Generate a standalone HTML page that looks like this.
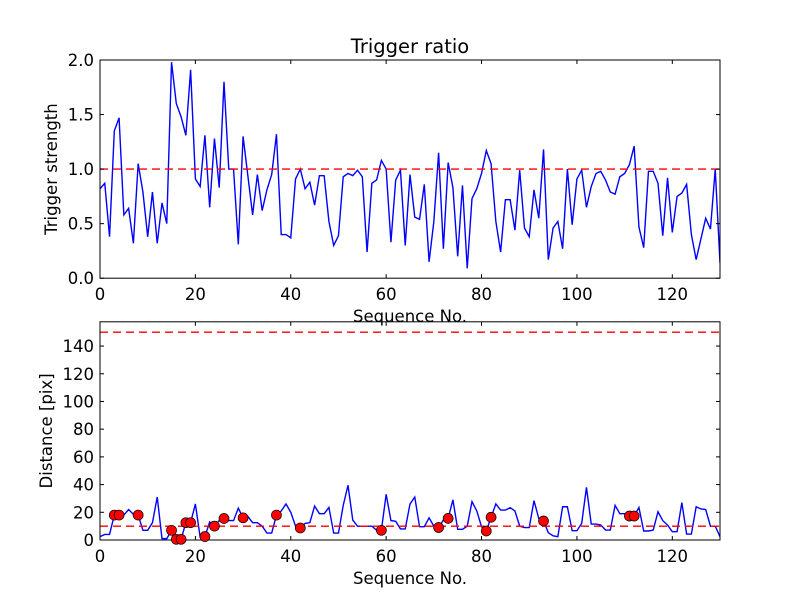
<!DOCTYPE html>
<html><head><meta charset="utf-8"><style>
body{margin:0;background:#fff}
svg{display:block;font-family:"DejaVu Sans","Liberation Sans",sans-serif}
</style></head><body>
<svg id="chart" width="800" height="600" viewBox="0 0 800 600" xmlns="http://www.w3.org/2000/svg">
<rect width="800" height="600" fill="#fff"/>
<g id="top"></g>
<g id="bot"></g>
</svg>
<script>
const strength=[0.82,0.87,0.38,1.35,1.47,0.58,0.64,0.32,1.05,0.79,0.38,0.79,0.32,0.69,0.50,1.98,1.60,1.48,1.31,1.91,0.91,0.84,1.31,0.65,1.28,0.83,1.80,1.0,1.0,0.31,1.30,0.94,0.58,0.95,0.62,0.81,0.95,1.32,0.40,0.40,0.37,0.91,1.0,0.82,0.88,0.67,0.94,0.94,0.52,0.30,0.39,0.93,0.96,0.94,0.99,0.93,0.24,0.87,0.90,1.08,1.0,0.33,0.90,0.99,0.30,0.95,0.56,0.54,0.86,0.15,0.52,1.15,0.27,1.06,0.83,0.20,0.85,0.09,0.73,0.82,0.96,1.17,1.05,0.52,0.24,0.72,0.72,0.44,0.99,0.46,0.38,0.81,0.55,1.18,0.17,0.46,0.52,0.27,1.0,0.49,0.91,0.99,0.65,0.84,0.96,0.98,0.90,0.79,0.77,0.93,0.96,1.04,1.21,0.47,0.28,0.98,0.98,0.87,0.39,0.92,0.42,0.75,0.78,0.86,0.40,0.17,0.36,0.55,0.45,1.0,0.14];
const distance=[2.4,4,4,18,18,18,22,18.5,18,7,7,12.5,31,1,1,7,0.5,0.5,12.5,12.5,26,2,2.5,13,10,14,15.5,14,14,23,16,17,12.5,12.5,10,5,5,18,21,26,20,10,8.7,12,12.5,24.5,19,19,23.5,5,5,25,39.5,14.4,10,10,10,10,7,7,33,14,13.5,8,8,26,31,9.6,9.6,16,10,9,14.4,15.6,29,7.7,7.7,10,27.7,21,9.6,6.5,16.4,26,21.6,21.6,23.3,21,10,9,9,28.4,15.6,13.7,5.3,3,2.4,24,24,6.7,6.7,12,38,11.5,11.5,10.8,7.2,7.2,25,19,19,17.3,17.3,23.5,6.5,6.5,7.2,20.4,14,10.8,6,6,27,4.3,4.3,24,22.4,22,10,10,2.4];
const markerIdx=[3,4,8,15,16,17,18,19,22,24,26,30,37,42,59,71,73,81,82,93,111,112];
const xTicks=[0,20,40,60,80,100,120];
const topYTicks=[0.0,0.5,1.0,1.5,2.0];
const botYTicks=[0,20,40,60,80,100,120,140];
const topThreshold=[1.0];
const botThresholds=[10,150];

const NS="http://www.w3.org/2000/svg";
function mk(parent,tag,attrs,text){const e=document.createElementNS(NS,tag);for(const k in attrs)e.setAttribute(k,attrs[k]);if(text!==undefined)e.textContent=text;parent.appendChild(e);return e;}
const X0=100,X1=720,XMAX=130;
const sx=v=>X0+(v/XMAX)*(X1-X0);

function axes(g,top,bottom,ymax,yTicks,fmt,ylabel,title,prefix){
  const sy=v=>bottom-(v/ymax)*(bottom-top);
  const frame=mk(g,'rect',{x:X0,y:top,width:X1-X0,height:bottom-top,fill:'none',stroke:'#000','stroke-width':1});
  
  
  xTicks.forEach(t=>{
    const x=sx(t);
    mk(g,'line',{x1:x,x2:x,y1:bottom,y2:bottom-4,stroke:'#000'});
    mk(g,'line',{x1:x,x2:x,y1:top,y2:top+4,stroke:'#000'});
    const tl=mk(g,'text',{x:x,y:bottom+22,'text-anchor':'middle','font-size':16.5},String(t));
    
    
  });
  yTicks.forEach(t=>{
    const y=sy(t);
    mk(g,'line',{x1:X0,x2:X0+4,y1:y,y2:y,stroke:'#000'});
    mk(g,'line',{x1:X1,x2:X1-4,y1:y,y2:y,stroke:'#000'});
    const tl=mk(g,'text',{x:X0-6,y:y+6,'text-anchor':'end','font-size':16.5},fmt(t));
    
    
  });
  const xl=mk(g,'text',{x:(X0+X1)/2,y:bottom+44,'text-anchor':'middle','font-size':16.5},'Sequence No.');
  
  
  const ly=(top+bottom)/2;
  const yl=mk(g,'text',{x:0,y:0,'text-anchor':'middle','font-size':16.5,transform:`translate(${prefix==='top'?57:52},${ly}) rotate(-90)`},ylabel);
  
  
  if(title){const tt=mk(g,'text',{x:(X0+X1)/2,y:top-7,'text-anchor':'middle','font-size':19.5},title);
    
    }
  return sy;
}
function hline(g,sy,v,name){
  const l=mk(g,'line',{x1:X0,x2:X1,y1:sy(v),y2:sy(v),stroke:'#f00','stroke-width':1.4,'stroke-dasharray':'8,5'});
  
  
}
function series(g,vals,sy,name){
  const p=mk(g,'polyline',{points:vals.map((v,i)=>sx(i)+','+sy(v)).join(' '),fill:'none',stroke:'#00f','stroke-width':1.4,'stroke-linejoin':'miter'});
  
  
}
const T=document.getElementById('top'),B=document.getElementById('bot');
const cpT=mk(T,'clipPath',{id:'cT'});mk(cpT,'rect',{x:X0,y:60,width:X1-X0,height:218.2});
const cpB=mk(B,'clipPath',{id:'cB'});mk(cpB,'rect',{x:X0,y:321.8,width:X1-X0,height:218.2});
const syT=v=>278.2-(v/2)*218.2;
const gT=mk(T,'g',{'clip-path':'url(#cT)'});
series(gT,strength,syT,'trigger-strength-line');
topThreshold.forEach(v=>hline(gT,syT,v,'trigger-threshold-line'));
axes(T,60,278.2,2,topYTicks,t=>t.toFixed(1),'Trigger strength','Trigger ratio','top');
const BMAX=157.5;
const syB=v=>540-(v/BMAX)*218.2;
const gB=mk(B,'g',{'clip-path':'url(#cB)'});
series(gB,distance,syB,'distance-line');
botThresholds.forEach(v=>hline(gB,syB,v,'distance-threshold-line'));
axes(B,321.8,540,BMAX,botYTicks,t=>String(t),'Distance [pix]',null,'bottom');
const gM=mk(B,'g',{});
markerIdx.forEach(i=>{
  const c=mk(gM,'circle',{cx:sx(i),cy:syB(distance[i]),r:5,fill:'#f00',stroke:'#000','stroke-width':0.7});
  
  
});
</script>
</body></html>
